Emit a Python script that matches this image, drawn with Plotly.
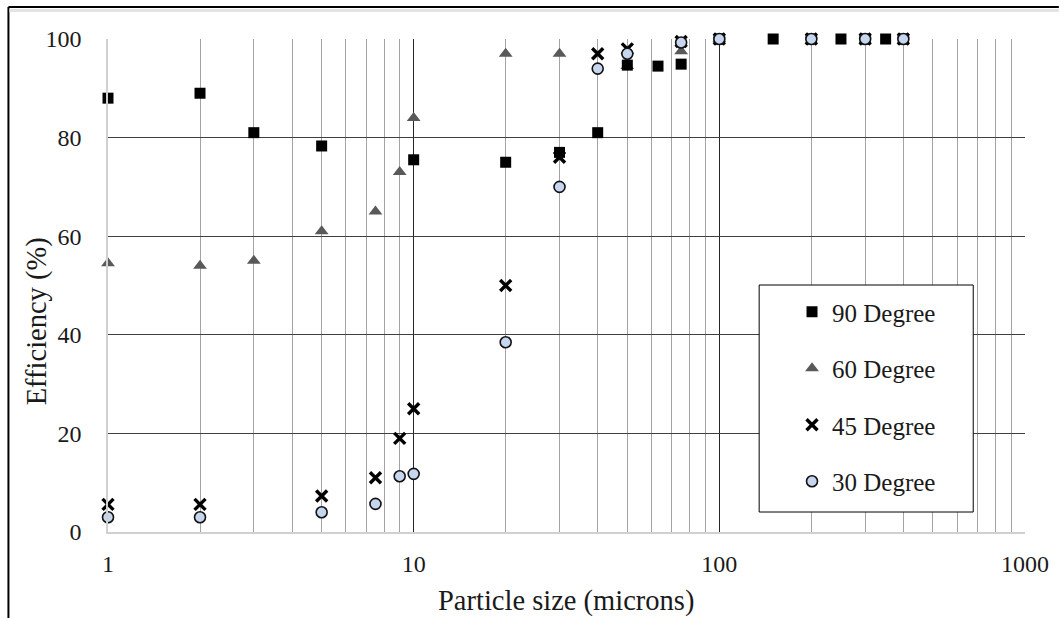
import plotly.graph_objects as go

# ---- data ----
x90 = [1, 2, 3, 5, 10, 20, 30, 40, 50, 63, 75, 100, 150, 200, 250, 300, 350, 400]
y90 = [88, 89, 81, 78.3, 75.5, 75, 77, 81, 94.7, 94.5, 94.9, 100, 100, 100, 100, 100, 100, 100]

x60 = [1, 2, 3, 5, 7.5, 9, 10, 20, 30, 50, 75, 100]
y60 = [54.5, 54, 55, 61, 65, 73, 84, 97, 97, 94.5, 97.5, 100]

x45 = [1, 2, 5, 7.5, 9, 10, 20, 30, 40, 50, 75, 100, 200, 300, 400]
y45 = [5.6, 5.6, 7.3, 11, 19, 25, 50, 76, 97, 98, 99.5, 100, 100, 100, 100]

x30 = [1, 2, 5, 7.5, 9, 10, 20, 30, 40, 50, 75, 100, 200, 300, 400]
y30 = [3, 3, 4, 5.7, 11.3, 11.8, 38.5, 70, 94, 97, 99.3, 100, 100, 100, 100]

series_names = ["90 Degree", "60 Degree", "45 Degree", "30 Degree"]
x_ticks = [1, 10, 100, 1000]
y_ticks = [0, 20, 40, 60, 80, 100]

x_title = "Particle size (microns)"
y_title = "Efficiency (%)"

# ---- layout geometry ----
W, H = 1061, 618
ML, MR, MT, MB = 108, 32, 39, 86
PW, PH = W - ML - MR, H - MT - MB


def px_x(px):
    return (px - ML) / PW


def px_y(py):
    return (H - MB - py) / PH


FONT = "'Liberation Serif', 'Times New Roman', Tinos, 'DejaVu Serif', serif"
TXT = "#1a1a1a"

fig = go.Figure()

fig.add_trace(go.Scatter(
    x=x60, y=y60, mode="markers", name=series_names[1], legendrank=2,
    legendgroup="g60", cliponaxis=False,
    marker=dict(symbol="triangle-up", size=12, color="#595959", line=dict(width=0)),
))
fig.add_trace(go.Scatter(
    x=x90, y=y90, mode="markers", name=series_names[0], legendrank=1,
    legendgroup="g90", cliponaxis=False,
    marker=dict(symbol="square", size=11, color="#000000", line=dict(width=0)),
))
fig.add_trace(go.Scatter(
    x=x45, y=y45, mode="markers", name=series_names[2], legendrank=3,
    legendgroup="g45", cliponaxis=False,
    marker=dict(symbol="x-thin", size=11, color="#000000",
                line=dict(width=3.4, color="#000000")),
))
fig.add_trace(go.Scatter(
    x=x30, y=y30, mode="markers", name=series_names[3], legendrank=4,
    legendgroup="g30", cliponaxis=False,
    marker=dict(symbol="circle", size=11, color="#c6d6ef",
                line=dict(width=1.6, color="#111111")),
))

shapes = [
    # legend box
    dict(type="rect", xref="paper", yref="paper",
         x0=px_x(762), x1=px_x(977), y0=px_y(512), y1=px_y(285),
         line=dict(color="#000000", width=1), fillcolor="white", layer="above"),
    # outer frame (left and top edges) and inner light line
    dict(type="line", xref="paper", yref="paper",
         x0=px_x(8), x1=px_x(8), y0=px_y(7), y1=px_y(H + 2),
         line=dict(color="#000000", width=2)),
    dict(type="line", xref="paper", yref="paper",
         x0=px_x(8), x1=px_x(W + 2), y0=px_y(7), y1=px_y(7),
         line=dict(color="#000000", width=2)),
    dict(type="line", xref="paper", yref="paper",
         x0=px_x(9), x1=px_x(W + 2), y0=px_y(10.5), y1=px_y(10.5),
         line=dict(color="#e3e3e3", width=3)),
]

annotations = [
    dict(text=x_title, xref="paper", yref="paper", x=px_x(568), y=px_y(601),
         xanchor="center", yanchor="middle", showarrow=False,
         font=dict(family=FONT, size=28.5, color=TXT)),
    dict(text=y_title, xref="paper", yref="paper", x=px_x(37), y=px_y(321),
         xanchor="center", yanchor="middle", showarrow=False, textangle=-90,
         font=dict(family=FONT, size=28.5, color=TXT)),
]

fig.update_layout(
    width=W, height=H,
    margin=dict(l=ML, r=MR, t=MT, b=MB, pad=0),
    paper_bgcolor="white", plot_bgcolor="white",
    font=dict(family=FONT, color=TXT),
    showlegend=True,
    legend=dict(
        x=px_x(795), y=px_y(289), xanchor="left", yanchor="top",
        bgcolor="rgba(0,0,0,0)", borderwidth=0,
        font=dict(family=FONT, size=25, color=TXT),
        traceorder="grouped", tracegroupgap=21, itemsizing="trace",
    ),
    shapes=shapes,
    annotations=annotations,
    xaxis=dict(
        type="log", range=[0, 3],
        tickvals=x_ticks, ticktext=[str(v) for v in x_ticks],
        ticks="", ticklabelstandoff=9,
        tickfont=dict(family=FONT, size=24, color=TXT),
        showgrid=True, gridcolor="#262626", gridwidth=1,
        minor=dict(dtick="D1", showgrid=True, gridcolor="#a3a3a3", gridwidth=1, ticks=""),
        showline=True, linecolor="#d0d0d0", linewidth=1.5,
        zeroline=False,
    ),
    yaxis=dict(
        range=[0, 100], tickvals=y_ticks,
        ticks="", ticklabelstandoff=20,
        tickfont=dict(family=FONT, size=24, color=TXT),
        showgrid=True, gridcolor="#3f3f3f", gridwidth=1,
        showline=True, linecolor="#d0d0d0", linewidth=1.5,
        zeroline=False,
    ),
)

fig.write_html("out.html")
